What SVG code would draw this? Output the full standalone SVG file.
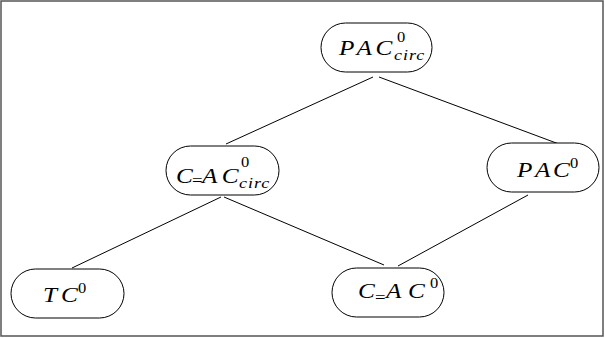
<svg xmlns="http://www.w3.org/2000/svg" width="605" height="338" viewBox="0 0 605 338">
<style>
.node rect{fill:#fff;stroke:#000;stroke-width:1}
.t{font-family:"Liberation Serif",serif;font-style:italic;font-size:21px;fill:#000}
.sup{font-family:"Liberation Serif",serif;font-size:15px;fill:#000}
.eq{font-family:"Liberation Serif",serif;font-size:17px;fill:#000}
.sub{font-family:"Liberation Serif",serif;font-style:italic;font-size:15px;letter-spacing:0.8px;fill:#000}
.e line{stroke:#000;stroke-width:1}
</style>
<rect x="1" y="1" width="602" height="335" fill="#fff" stroke="#555" stroke-width="1.5"/>
<g class="e" id="connectors">
<line x1="373" y1="77" x2="226" y2="144"/>
<line x1="379" y1="77" x2="567" y2="147"/>
<line x1="221" y1="197" x2="72" y2="268"/>
<line x1="224" y1="197" x2="384" y2="265"/>
<line x1="528" y1="195" x2="398" y2="266"/>
</g>
<g class="node" id="n_pac_circ">
<rect x="321" y="23" width="111" height="49" rx="24.5"/>
<text class="t" transform="translate(339,55) scale(1.2,1)" x="0 14.5 30.5" y="0">PAC</text>
<text class="sup" transform="translate(397,42) scale(1.1,1)">0</text>
<text class="sub" transform="translate(394,60) scale(1.2,1)">circ</text>
</g>
<g class="node" id="n_ceq_circ">
<rect x="166" y="146" width="113" height="49" rx="24.5"/>
<text class="t" transform="translate(176,183) scale(1.2,1)">C</text>
<text class="eq" transform="translate(192,186) scale(1.1,1)">=</text>
<text class="t" transform="translate(202,183) scale(1.2,1)" x="0 16.5" y="0">AC</text>
<text class="sup" transform="translate(241,167) scale(1.1,1)">0</text>
<text class="sub" transform="translate(239,188) scale(1.2,1)">circ</text>
</g>
<g class="node" id="n_pac">
<rect x="487" y="143" width="112" height="49" rx="24.5"/>
<text class="t" transform="translate(517,177) scale(1.2,1)" x="0 15 30" y="0">PAC</text>
<text class="sup" transform="translate(570,168) scale(1.1,1)">0</text>
</g>
<g class="node" id="n_tc">
<rect x="11" y="269" width="113" height="49" rx="24.5"/>
<text class="t" transform="translate(43,302) scale(1.2,1)" x="0 15" y="0">TC</text>
<text class="sup" transform="translate(78,293) scale(1.1,1)">0</text>
</g>
<g class="node" id="n_ceq">
<rect x="332" y="268" width="112" height="49" rx="24.5"/>
<text class="t" transform="translate(358,298) scale(1.2,1)">C</text>
<text class="eq" transform="translate(375,303) scale(1.1,1)">=</text>
<text class="t" transform="translate(386,298) scale(1.2,1)" x="0 18.3" y="0">AC</text>
<text class="sup" transform="translate(430,288) scale(1.1,1)">0</text>
</g>
</svg>
